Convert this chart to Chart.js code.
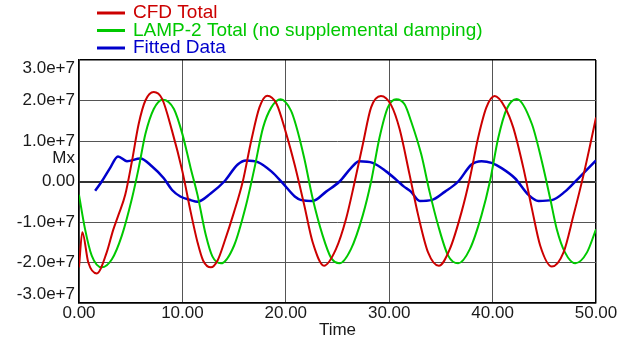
<!DOCTYPE html>
<html>
<head>
<meta charset="utf-8">
<script src="https://cdn.jsdelivr.net/npm/chart.js@4/dist/chart.umd.min.js"></script>
<style>
  html, body { margin: 0; padding: 0; background: #fff; }
  #wrap { width: 619px; height: 344px; }
</style>
</head>
<body>
<div id="wrap"><canvas id="mxChart" width="619" height="344"></canvas></div>
<script>
// series names and colours
var seriesNames = ["CFD Total", "LAMP-2 Total (no supplemental damping)", "Fitted Data"];
var seriesColors = ["#cc0000", "#00c800", "#0000cc"];

// CFD Total (time, Mx)
var cfdTime = [0, 0.32, 0.9, 1.72, 2.68, 3.3, 3.81, 4.47, 5.12, 5.77, 6.42, 7.23, 8.04, 9.0, 10.0, 10.8,
  11.46, 12.0, 12.76, 13.4, 14.05, 15.0, 15.84, 16.65, 17.45, 18.2, 19.1, 20.05, 20.87, 21.78, 22.6,
  23.7, 24.85, 25.83, 26.6, 27.45, 28.25, 29.2, 30.2, 31.0, 31.97, 32.8, 33.76, 34.8, 35.86, 37.0,
  37.8, 38.6, 39.4, 40.2, 41.2, 42.0, 42.98, 43.8, 44.6, 45.73, 46.86, 47.83, 48.8, 49.45, 50];
var cfdMx = [-2.12e7, -1.25e7, -2.0e7, -2.27e7, -1.75e7, -1.2e7, -0.83e7, -0.33e7, 0.5e7, 1.42e7, 2.0e7, 2.21e7, 2.04e7, 1.25e7, 0.25e7, -0.75e7,
  -1.5e7, -1.95e7, -2.12e7, -1.95e7, -1.5e7, -0.75e7, 0, 1.0e7, 1.83e7, 2.12e7, 1.92e7, 1.17e7, 0.4e7, -0.58e7, -1.5e7,
  -2.08e7, -1.67e7, -0.92e7, -0.08e7, 0.92e7, 1.83e7, 2.11e7, 1.88e7, 1.3e7, 0.17e7, -0.83e7, -1.75e7, -2.08e7, -1.67e7, -0.75e7,
  0.08e7, 1.08e7, 1.83e7, 2.11e7, 1.83e7, 1.33e7, 0.33e7, -0.67e7, -1.58e7, -2.1e7, -1.75e7, -0.83e7, 0.17e7, 0.92e7, 1.58e7];

// LAMP-2 Total (time, Mx)
var lampTime = [0, 0.58, 1.23, 2.2, 3.18, 4.15, 5.12, 5.77, 6.42, 7.23, 8.1, 9.18, 10.0, 10.8, 11.46, 12.27,
  12.9, 13.73, 15.0, 16.16, 16.97, 17.8, 18.6, 19.5, 20.5, 20.97, 21.78, 22.6, 23.56, 24.37, 25.2, 26.3,
  27.45, 28.25, 29.06, 29.87, 30.68, 31.5, 32.1, 33.1, 33.9, 34.73, 35.7, 36.67, 37.8, 38.93, 39.74,
  40.55, 41.36, 42.33, 43.8, 44.76, 45.57, 46.2, 47.0, 48.0, 49.13, 50];
var lampMx = [-0.33e7, -1.17e7, -1.83e7, -2.12e7, -1.92e7, -1.33e7, -0.42e7, 0.33e7, 1.17e7, 1.79e7, 2.02e7, 1.79e7, 1.17e7, 0.33e7, -0.33e7, -1.33e7,
  -1.85e7, -2.02e7, -1.58e7, -0.58e7, 0.33e7, 1.33e7, 1.83e7, 2.03e7, 1.75e7, 1.4e7, 0.58e7, -0.42e7, -1.33e7, -1.88e7, -2.02e7, -1.67e7,
  -0.83e7, 0, 1.08e7, 1.83e7, 2.03e7, 1.9e7, 1.5e7, 0.67e7, -0.25e7, -1.08e7, -1.83e7, -2.02e7, -1.67e7, -0.83e7, 0,
  1.08e7, 1.79e7, 2.04e7, 1.42e7, 0.5e7, -0.42e7, -1.17e7, -1.75e7, -2.02e7, -1.75e7, -1.18e7];

// Fitted Data (time, Mx)
var fitTime = [1.56, 2.2, 3.0, 3.77, 4.64, 5.93, 7.07, 8.2, 9.0, 9.8, 10.8, 11.46, 12.76, 14.05, 15.35, 16.16,
  17.3, 18.6, 19.7, 20.87, 21.5, 22.6, 23.9, 25.2, 26.3, 27.1, 28.4, 29.7, 30.7, 31.4, 32.1, 32.95,
  34.1, 35.4, 36.67, 37.96, 38.93, 39.9, 40.87, 42.16, 43.47, 44.44, 45.73, 47.0, 48.3, 50];
var fitMx = [-0.23e7, 0, 0.33e7, 0.62e7, 0.5e7, 0.57e7, 0.37e7, 0.08e7, -0.21e7, -0.37e7, -0.46e7, -0.5e7, -0.29e7, 0, 0.42e7, 0.52e7,
  0.48e7, 0.25e7, -0.04e7, -0.37e7, -0.46e7, -0.48e7, -0.25e7, 0, 0.33e7, 0.5e7, 0.46e7, 0.25e7, 0.04e7, -0.12e7, -0.25e7, -0.48e7,
  -0.46e7, -0.25e7, 0, 0.42e7, 0.5e7, 0.46e7, 0.33e7, 0.08e7, -0.33e7, -0.48e7, -0.46e7, -0.25e7, 0.08e7, 0.52e7];

// axis setup
var xTicks = [0, 10, 20, 30, 40, 50];
var yTicks = [-3e7, -2e7, -1e7, 0, 1e7, 2e7, 3e7];
var xTitle = "Time";
var yTitle = "Mx";

var FONT = "'Liberation Sans', Arial, sans-serif";

function toPoints(xs, ys) {
  return xs.map(function (x, i) { return { x: x, y: ys[i] }; });
}

function yLabel(v) {
  if (v === 0) return "0.00";
  var s = v.toExponential(1);
  // keep the top/bottom labels inside the frame
  if (v === yTicks[yTicks.length - 1]) return ["", s];
  if (v === yTicks[0]) return [s, ""];
  return s;
}

// legend + horizontal "Mx" label, drawn like the original
var sideText = {
  id: "sideText",
  afterDraw: function (chart) {
    var ctx = chart.ctx;
    ctx.save();
    ctx.font = "19px " + FONT;
    ctx.textBaseline = "middle";
    ctx.textAlign = "left";
    var rows = [13, 30.5, 48];
    for (var i = 0; i < seriesNames.length; i++) {
      ctx.strokeStyle = seriesColors[i];
      ctx.lineWidth = 3;
      ctx.beginPath();
      ctx.moveTo(97, rows[i]);
      ctx.lineTo(125, rows[i]);
      ctx.stroke();
      ctx.fillStyle = seriesColors[i];
      ctx.fillText(seriesNames[i], 133, rows[i]);
    }
    ctx.font = "17px " + FONT;
    ctx.fillStyle = "#1a1a1a";
    ctx.textAlign = "right";
    ctx.fillText(yTitle, 75, 158);
    ctx.restore();
  }
};

new Chart(document.getElementById("mxChart"), {
  type: "line",
  data: {
    datasets: [
      { label: seriesNames[0], data: toPoints(cfdTime, cfdMx), borderColor: seriesColors[0], borderWidth: 2 },
      { label: seriesNames[1], data: toPoints(lampTime, lampMx), borderColor: seriesColors[1], borderWidth: 2 },
      { label: seriesNames[2], data: toPoints(fitTime, fitMx), borderColor: seriesColors[2], borderWidth: 2.5 }
    ]
  },
  options: {
    responsive: false,
    animation: false,
    events: [],
    layout: { padding: { top: 60, right: 23, left: 0, bottom: 0 } },
    elements: {
      point: { radius: 0 },
      line: { cubicInterpolationMode: "monotone", fill: false }
    },
    plugins: { legend: { display: false }, tooltip: { enabled: false } },
    scales: {
      x: {
        type: "linear",
        min: 0, max: 50,
        afterBuildTicks: function (s) { s.ticks = xTicks.map(function (v) { return { value: v }; }); },
        afterFit: function (s) { s.height = 41; },
        ticks: {
          padding: 0, color: "#1a1a1a", maxRotation: 0, autoSkip: false,
          font: { family: FONT, size: 17 },
          callback: function (v) { return v.toFixed(2); }
        },
        grid: {
          drawTicks: false,
          color: function (c) { return (c.index === 0 || c.index === xTicks.length - 1) ? "#000" : "#555"; },
          lineWidth: function (c) { return (c.index === 0 || c.index === xTicks.length - 1) ? 1.5 : 1; }
        },
        border: { display: true, color: "#000", width: 1.5 },
        title: { display: true, text: xTitle, color: "#1a1a1a", font: { family: FONT, size: 17 }, padding: { top: 0, bottom: 3 } }
      },
      y: {
        min: -3e7, max: 3e7,
        afterBuildTicks: function (s) { s.ticks = yTicks.map(function (v) { return { value: v }; }); },
        afterFit: function (s) { s.width = 79; },
        ticks: {
          padding: 4, color: "#1a1a1a",
          font: { family: FONT, size: 17, lineHeight: 1 },
          callback: yLabel
        },
        grid: {
          drawTicks: false,
          color: function (c) {
            if (c.index === 0 || c.index === yTicks.length - 1) return "#000";
            if (c.tick && c.tick.value === 0) return "#333";
            return "#555";
          },
          lineWidth: function (c) {
            if (c.index === 0 || c.index === yTicks.length - 1) return 1.5;
            if (c.tick && c.tick.value === 0) return 2;
            return 1;
          }
        },
        border: { display: true, color: "#000", width: 1.5 }
      }
    }
  },
  plugins: [sideText]
});
</script>
</body>
</html>
